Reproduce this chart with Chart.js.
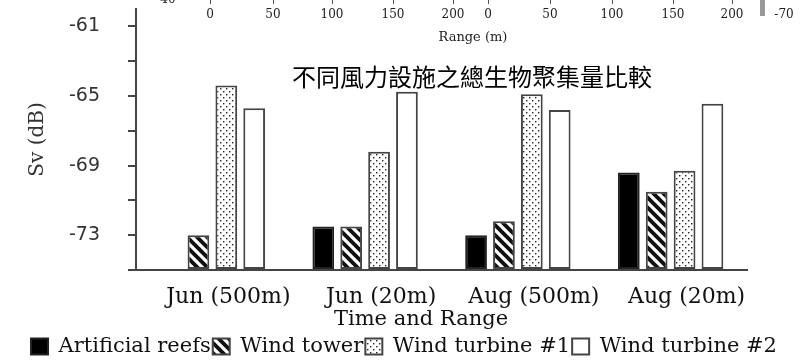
<!DOCTYPE html>
<html>
<head>
<meta charset="utf-8">
<script src="https://cdn.jsdelivr.net/npm/chart.js@4.4.0/dist/chart.umd.min.js"></script>
<style>
html, body { margin: 0; padding: 0; background: #fff; }
</style>
</head>
<body>
<canvas id="chart" width="808" height="361"></canvas>
<script>
// values (Sv in dB)
const categories = ['Jun (500m)', 'Jun (20m)', 'Aug (500m)', 'Aug (20m)'];
const seriesNames = ['Artificial reefs', 'Wind tower', 'Wind turbine #1', 'Wind turbine #2'];
const artificialReefs = [null, -72.5, -73.0, -69.4];
const windTower = [-73.0, -72.5, -72.2, -70.5];
const windTurbine1 = [-64.4, -68.2, -64.9, -69.3];
const windTurbine2 = [-65.7, -64.75, -65.8, -65.45];

const yMin = -75;
const yMax = -60;
const yTicks = [-75, -73, -71, -69, -67, -65, -63, -61];
const yLabelled = [-73, -69, -65, -61];

// leftover axis of the figure above (cut off at the top)
const rangeTicks = ['0', '50', '100', '150', '200', '0', '50', '100', '150', '200'];
const rangeTickX = [210, 273, 332, 393, 453, 488, 550, 612, 673, 732];

const chartTitle = '不同風力設施之總生物聚集量比較';
const xTitle = 'Time and Range';

const canvas = document.getElementById('chart');
const ctx = canvas.getContext('2d');

function stripePattern() {
    const c = document.createElement('canvas');
    c.width = 10; c.height = 10;
    const g = c.getContext('2d');
    g.fillStyle = '#fff';
    g.fillRect(0, 0, 10, 10);
    g.strokeStyle = '#111';
    g.lineWidth = 3.8;
    g.beginPath();
    g.moveTo(-5, -5); g.lineTo(15, 15);
    g.moveTo(-5, 5); g.lineTo(5, 15);
    g.moveTo(5, -5); g.lineTo(15, 5);
    g.stroke();
    return ctx.createPattern(c, 'repeat');
}

function dotPattern() {
    const c = document.createElement('canvas');
    c.width = 6; c.height = 6;
    const g = c.getContext('2d');
    g.fillStyle = '#fff';
    g.fillRect(0, 0, 6, 6);
    g.fillStyle = '#222';
    g.fillRect(1, 1, 1.4, 1.4);
    g.fillRect(4, 4, 1.4, 1.4);
    return ctx.createPattern(c, 'repeat');
}

const extras = {
    id: 'extras',
    beforeDraw(chart) {
        const c = chart.ctx;
        c.save();
        c.fillStyle = '#fff';
        c.fillRect(0, 0, chart.width, chart.height);
        c.restore();
    },
    afterDraw(chart) {
        const c = chart.ctx;
        c.save();
        // remains of the upper figure
        c.fillStyle = '#222';
        c.strokeStyle = '#555';
        c.lineWidth = 1;
        c.font = '12px "DejaVu Serif"';
        c.textAlign = 'center';
        c.textBaseline = 'middle';
        rangeTicks.forEach((t, i) => {
            c.fillText(t, rangeTickX[i], 15);
            c.beginPath();
            c.moveTo(rangeTickX[i] + 0.5, 0);
            c.lineTo(rangeTickX[i] + 0.5, 4);
            c.stroke();
        });
        c.fillText('40', 168, 0);
        c.fillText('-70', 784, 15);
        c.fillStyle = '#999';
        c.fillRect(760, 0, 5, 16);
        c.fillStyle = '#222';
        c.font = '13px "DejaVu Serif"';
        c.fillText('Range (m)', 473, 38);

        // chart title inside the plot
        c.fillStyle = '#000';
        c.font = '24px "Noto Sans CJK TC"';
        c.fillText(chartTitle, 472, 77);

        // x axis title
        c.fillStyle = '#111';
        c.font = '21px "DejaVu Serif"';
        c.fillText(xTitle, 421, 320);
        c.restore();
    }
};

const borderCol = '#444';

new Chart(ctx, {
    type: 'bar',
    data: {
        labels: categories,
        datasets: [
            { label: seriesNames[0], data: artificialReefs, backgroundColor: '#000', borderColor: '#222' },
            { label: seriesNames[1], data: windTower, backgroundColor: stripePattern(), borderColor: borderCol },
            { label: seriesNames[2], data: windTurbine1, backgroundColor: dotPattern(), borderColor: borderCol },
            { label: seriesNames[3], data: windTurbine2, backgroundColor: '#fff', borderColor: borderCol }
        ]
    },
    options: {
        responsive: false,
        animation: false,
        layout: { padding: { top: 9, right: 0, left: 0, bottom: 0 } },
        datasets: {
            bar: {
                base: yMin,
                borderWidth: 2,
                borderSkipped: false,
                categoryPercentage: 0.73,
                barPercentage: 0.78
            }
        },
        scales: {
            x: {
                afterFit(scale) {
                    scale.height = 64;
                    scale.paddingLeft = 0;
                    scale.paddingRight = 0;
                },
                grid: { display: false, drawTicks: false },
                border: { display: true, color: borderCol, width: 2 },
                ticks: {
                    color: '#111',
                    font: { family: 'DejaVu Serif', size: 22 },
                    padding: 14,
                    labelOffset: 16,
                    maxRotation: 0,
                    autoSkip: false
                }
            },
            y: {
                min: yMin,
                max: yMax,
                afterBuildTicks(scale) {
                    scale.ticks = yTicks.map(v => ({ value: v }));
                },
                afterFit(scale) {
                    scale.width = 136;
                    scale.paddingTop = 0;
                    scale.paddingBottom = 0;
                },
                grid: {
                    drawOnChartArea: false,
                    drawTicks: true,
                    tickLength: 8,
                    color: borderCol,
                    lineWidth: 2
                },
                border: { display: true, color: borderCol, width: 2 },
                ticks: {
                    color: '#333',
                    font: { family: 'DejaVu Sans', size: 19 },
                    padding: 28,
                    autoSkip: false,
                    callback: v => (yLabelled.includes(v) ? String(v) : '')
                },
                title: {
                    display: true,
                    text: 'Sv (dB)',
                    color: '#333',
                    font: { family: 'DejaVu Serif', size: 20 },
                    padding: { top: 26, bottom: 0 }
                }
            },
            // empty right-hand strip so the plot stops where the original does
            yRight: {
                position: 'right',
                min: yMin,
                max: yMax,
                grid: { display: false },
                border: { display: false },
                ticks: { display: false },
                afterFit(scale) {
                    scale.width = 61;
                    scale.paddingTop = 0;
                    scale.paddingBottom = 0;
                }
            }
        },
        plugins: {
            legend: {
                position: 'bottom',
                maxHeight: 27,
                labels: {
                    color: '#111',
                    boxWidth: 17,
                    boxHeight: 16,
                    padding: 2,
                    font: { family: 'DejaVu Serif', size: 21 }
                }
            },
            tooltip: { enabled: false }
        }
    },
    plugins: [extras]
});
</script>
</body>
</html>
